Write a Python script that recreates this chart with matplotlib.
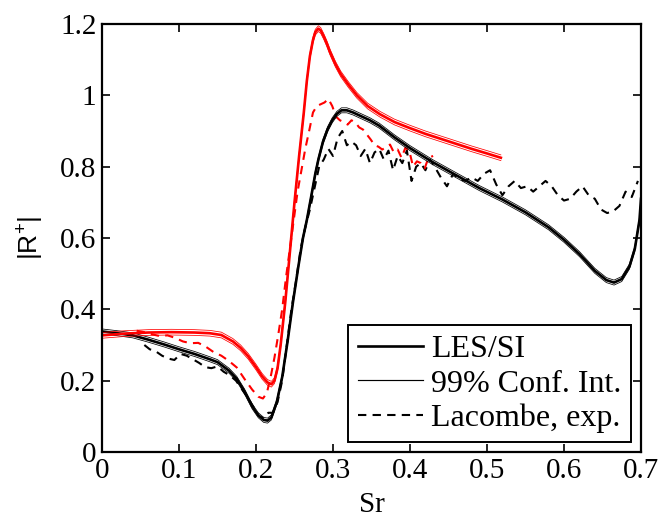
import matplotlib
matplotlib.use("Agg")
import matplotlib.pyplot as plt
import numpy as np
from matplotlib.lines import Line2D

# LES/SI, black (mean curve)
les_black_x = [0.0, 0.02, 0.04, 0.06, 0.08, 0.10, 0.12, 0.14, 0.15, 0.165,
               0.175, 0.185, 0.195, 0.203, 0.21, 0.215, 0.22, 0.227, 0.234,
               0.241, 0.248, 0.255, 0.261, 0.266, 0.272, 0.277, 0.281, 0.287,
               0.293, 0.299, 0.305, 0.311, 0.318, 0.326, 0.336, 0.348, 0.36,
               0.38, 0.40, 0.43, 0.46, 0.49, 0.52, 0.55, 0.58, 0.60, 0.62,
               0.64, 0.655, 0.665, 0.675, 0.685, 0.692, 0.698, 0.70]
les_black_y = [0.338, 0.333, 0.327, 0.315, 0.302, 0.288, 0.275, 0.26, 0.252,
               0.228, 0.205, 0.17, 0.128, 0.103, 0.09, 0.088, 0.097, 0.14,
               0.21, 0.31, 0.42, 0.52, 0.6, 0.65, 0.72, 0.78, 0.82, 0.87,
               0.905, 0.93, 0.948, 0.958, 0.958, 0.952, 0.942, 0.93, 0.915,
               0.882, 0.852, 0.812, 0.776, 0.74, 0.708, 0.672, 0.63, 0.595,
               0.555, 0.508, 0.482, 0.475, 0.485, 0.52, 0.57, 0.65, 0.71]

# LES/SI, red (mean curve)
les_red_x = [0.0, 0.03, 0.06, 0.09, 0.12, 0.14, 0.155, 0.17, 0.18, 0.19,
             0.2, 0.208, 0.215, 0.22, 0.224, 0.228, 0.232, 0.238, 0.244,
             0.25, 0.256, 0.262, 0.266, 0.270, 0.274, 0.277, 0.281, 0.284,
             0.288, 0.292, 0.296, 0.303, 0.31, 0.32, 0.331, 0.345, 0.361,
             0.38, 0.40, 0.42, 0.44, 0.46, 0.48, 0.50, 0.518]
les_red_y = [0.327, 0.332, 0.335, 0.336, 0.335, 0.333, 0.328, 0.31, 0.292,
             0.268, 0.238, 0.212, 0.195, 0.19, 0.2, 0.235, 0.3, 0.42, 0.56,
             0.7, 0.83, 0.95, 1.04, 1.11, 1.155, 1.177, 1.187, 1.182, 1.165,
             1.145, 1.122, 1.088, 1.06, 1.03, 1.0, 0.97, 0.947, 0.925,
             0.908, 0.892, 0.878, 0.864, 0.85, 0.837, 0.825]

# 99% confidence half widths
ci_black = 0.007
ci_red = 0.008

# Lacombe, experiment (red)
exp_red_x = [0.045, 0.055, 0.065, 0.075, 0.085, 0.095, 0.105, 0.115, 0.125,
             0.135, 0.145, 0.155, 0.165, 0.175, 0.185, 0.195, 0.203, 0.209,
             0.214, 0.219, 0.224, 0.229, 0.234, 0.239, 0.244, 0.249, 0.254,
             0.259, 0.264, 0.269, 0.274, 0.279, 0.284, 0.289, 0.294, 0.299,
             0.304, 0.309, 0.314, 0.319, 0.324, 0.329, 0.334, 0.339, 0.344,
             0.349, 0.354, 0.359, 0.364, 0.369, 0.374, 0.379, 0.384, 0.389,
             0.394, 0.399, 0.404, 0.409, 0.414, 0.419, 0.424, 0.43]
exp_red_y = [0.34, 0.336, 0.33, 0.325, 0.327, 0.32, 0.31, 0.305, 0.306, 0.295,
             0.28, 0.27, 0.255, 0.237, 0.205, 0.175, 0.155, 0.15, 0.165, 0.21,
             0.265, 0.33, 0.40, 0.49, 0.57, 0.65, 0.73, 0.79, 0.85, 0.9, 0.952,
             0.97, 0.975, 0.98, 0.99, 0.97, 0.94, 0.93, 0.925, 0.918, 0.93,
             0.924, 0.91, 0.904, 0.89, 0.876, 0.86, 0.856, 0.848, 0.855,
             0.862, 0.84, 0.848, 0.825, 0.853, 0.845, 0.80, 0.815, 0.81,
             0.795, 0.825, 0.83]

# Lacombe, experiment (black)
exp_black_x = [0.055, 0.062, 0.07, 0.078, 0.086, 0.094, 0.102, 0.11, 0.118,
               0.126, 0.134, 0.142, 0.15, 0.158, 0.166, 0.174, 0.182, 0.19,
               0.197, 0.204, 0.21, 0.216, 0.222, 0.228, 0.234, 0.24, 0.246,
               0.252, 0.258, 0.264, 0.27, 0.276, 0.282, 0.288, 0.294, 0.3,
               0.306, 0.312, 0.318, 0.324, 0.33, 0.336, 0.342, 0.348, 0.354,
               0.36, 0.366, 0.372, 0.378, 0.384, 0.39, 0.396, 0.402, 0.408,
               0.414, 0.42, 0.426, 0.432, 0.44, 0.448, 0.456, 0.464, 0.472,
               0.48, 0.488, 0.496, 0.504, 0.512, 0.52, 0.528, 0.536, 0.544,
               0.552, 0.56, 0.568, 0.576, 0.584, 0.592, 0.6, 0.608, 0.616,
               0.624, 0.632, 0.64, 0.648, 0.656, 0.664, 0.672, 0.68, 0.688,
               0.696]
exp_black_y = [0.30, 0.288, 0.282, 0.27, 0.262, 0.258, 0.275, 0.27, 0.26,
               0.25, 0.238, 0.235, 0.24, 0.225, 0.215, 0.2, 0.175, 0.15,
               0.125, 0.1, 0.095, 0.11, 0.11, 0.14, 0.2, 0.3, 0.4, 0.48,
               0.57, 0.63, 0.68, 0.74, 0.80, 0.82, 0.85, 0.83, 0.88, 0.9,
               0.86, 0.87, 0.86, 0.83, 0.85, 0.81, 0.84, 0.85, 0.82, 0.845,
               0.79, 0.83, 0.81, 0.845, 0.76, 0.8, 0.81, 0.79, 0.82, 0.8,
               0.77, 0.745, 0.78, 0.765, 0.76, 0.77, 0.76, 0.78, 0.79, 0.75,
               0.72, 0.745, 0.76, 0.74, 0.745, 0.73, 0.745, 0.76, 0.745,
               0.72, 0.705, 0.71, 0.73, 0.745, 0.72, 0.71, 0.68, 0.67, 0.675,
               0.69, 0.73, 0.715, 0.76]

x_ticks = [0, 0.1, 0.2, 0.3, 0.4, 0.5, 0.6, 0.7]
x_tick_labels = ['0', '0.1', '0.2', '0.3', '0.4', '0.5', '0.6', '0.7']
y_ticks = [0, 0.2, 0.4, 0.6, 0.8, 1.0, 1.2]
y_tick_labels = ['0', '0.2', '0.4', '0.6', '0.8', '1', '1.2']

plt.rcParams['font.family'] = ['Liberation Serif', 'DejaVu Serif']
plt.rcParams['mathtext.fontset'] = 'custom'
plt.rcParams['mathtext.rm'] = 'Liberation Sans'

fig = plt.figure(figsize=(6.61, 5.19), dpi=100)
ax = fig.add_axes([102 / 661, 67 / 519, 539 / 661, 428 / 519])

thick = 1.9
thin = 0.55
dash = (4, 3)

# experiments first, simulation on top
ax.plot(exp_black_x, exp_black_y, color='k', lw=1.5, dashes=dash)
ax.plot(exp_red_x, exp_red_y, color='r', lw=1.5, dashes=dash)

for xs, ys, ci, col in [(les_black_x, les_black_y, ci_black, 'k'),
                        (les_red_x, les_red_y, ci_red, 'r')]:
    ys = np.array(ys)
    ax.plot(xs, ys, color=col, lw=thick)
    ax.plot(xs, ys + ci, color=col, lw=thin)
    ax.plot(xs, ys - ci, color=col, lw=thin)

ax.set_xlim(0, 0.7)
ax.set_ylim(0, 1.2)
ax.set_xticks(x_ticks)
ax.set_xticklabels(x_tick_labels)
ax.set_yticks(y_ticks)
ax.set_yticklabels(y_tick_labels)
ax.tick_params(direction='in', length=6, width=1.2, labelsize=21,
               top=True, right=True, pad=4)
for s in ax.spines.values():
    s.set_linewidth(1.6)

ax.set_xlabel('Sr', fontsize=21, labelpad=6)
ax.set_ylabel(r'$\mathrm{|R^{+}|}$', fontsize=19, labelpad=10)

handles = [Line2D([], [], color='k', lw=thick),
           Line2D([], [], color='k', lw=thin + 0.3),
           Line2D([], [], color='k', lw=1.5, dashes=dash)]
labels = ['LES/SI', '99% Conf. Int.', 'Lacombe, exp.']
leg = ax.legend(handles, labels, loc='lower right', fontsize=23,
                handlelength=2.05, handletextpad=0.25, labelspacing=0.15,
                borderpad=0.3, borderaxespad=0.3, fancybox=False,
                framealpha=1, edgecolor='k')
leg.get_frame().set_linewidth(1.4)

fig.savefig('out.png', dpi=100)
